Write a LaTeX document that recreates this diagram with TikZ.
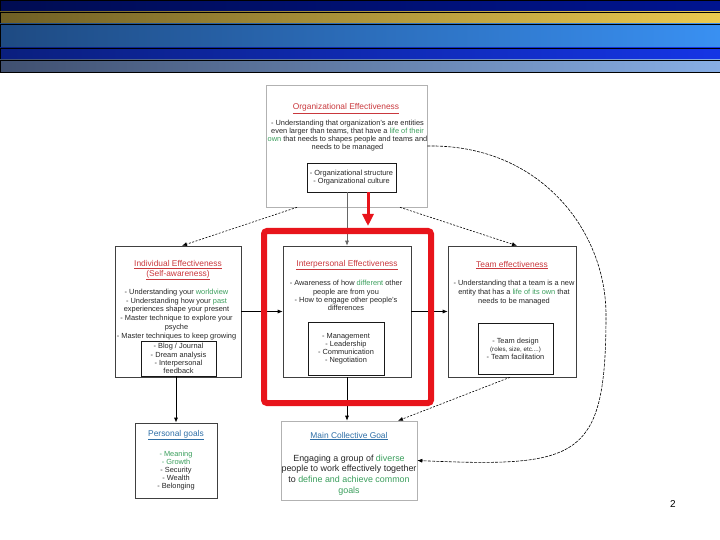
\documentclass[tikz,border=0pt]{standalone}
\usepackage{fontspec}
\setmainfont{Liberation Sans}
\usetikzlibrary{arrows.meta}

\definecolor{navyL}{HTML}{000C52}
\definecolor{navyR}{HTML}{001490}
\definecolor{goldL}{HTML}{6F5F25}
\definecolor{goldR}{HTML}{EBC94F}
\definecolor{skyL}{HTML}{1E4A82}
\definecolor{skyR}{HTML}{3990F2}
\definecolor{royalL}{HTML}{0A1F7E}
\definecolor{royalR}{HTML}{1535E5}
\definecolor{slateL}{HTML}{405070}
\definecolor{slateR}{HTML}{87AEE5}
\definecolor{titlered}{HTML}{C9383D}
\definecolor{keygreen}{HTML}{3A9E5C}
\definecolor{goalblue}{HTML}{2E6EA6}
\definecolor{framered}{HTML}{E8141B}
\newcommand{\keyword}[1]{\textcolor{keygreen}{#1}}

\begin{document}
\begin{tikzpicture}[x=1pt, y=-1pt, >={Latex[length=5pt,width=4pt]},
  box/.style={draw=black!75, line width=0.6pt, inner sep=0pt},
  softbox/.style={draw=black!30, line width=0.6pt, inner sep=0pt},
  subbox/.style={draw=black!90, line width=0.7pt, inner sep=0pt, align=center,
    font=\fontsize{7.4}{8.1}\selectfont, text=black!85},
  heading/.style={anchor=base, align=center, inner sep=0pt,
    font=\fontsize{8.4}{10}\selectfont, text=titlered},
  goalhead/.style={heading, text=goalblue},
  body/.style={anchor=north, align=center, inner sep=0pt,
    font=\fontsize{7.4}{8.3}\selectfont, text=black!85},
  link/.style={->, line width=0.6pt},
  hint/.style={->, line width=0.6pt, dash pattern=on 2pt off 1.5pt}]

  \useasboundingbox (0,0) rectangle (720,540);

  % ===== Header bars =====
  \foreach \ya/\yb/\lc/\rc in {0/12/navyL/navyR, 12/24/goldL/goldR, 24/48/skyL/skyR,
                                48/60/royalL/royalR, 60/72/slateL/slateR}
    \shadedraw[left color=\lc, right color=\rc, draw=black, line width=0.6pt] (0,\ya) rectangle (720,\yb);

  % ===== Organizational box (top) =====
  \node[softbox, minimum width=161pt, minimum height=122pt] (org) at (346.5,146) {};
  \node[heading] (orgtitle) at (346,110) {\underline{Organizational Effectiveness}};
  \node[body, font=\fontsize{7.4}{7.9}\selectfont] (orgtext) at (347.5,120.3)
    {- Understanding that organization's are entities\\
     even larger than teams, that have a \keyword{life of their}\\
     \keyword{own} that needs to shapes people and teams and\\
     needs to be managed};
  \node[subbox, minimum width=89pt, minimum height=29pt] (orgin) at (351.5,177.5)
    {- Organizational structure\\ - Organizational culture};

  % ===== Middle row =====
  \node[box, minimum width=126pt, minimum height=131pt] (indiv) at (178,311.5) {};
  \node[heading, anchor=north] (indivtitle) at (178,260)
    {\underline{Individual Effectiveness}\\ \underline{(Self-awareness)}};
  \node[body, font=\fontsize{7.4}{8.8}\selectfont] (indivtext) at (176.5,288.7)
    {- Understanding your \keyword{worldview}\\
     - Understanding how your \keyword{past}\\
     experiences shape your present\\
     - Master technique to explore your\\
     psyche\\
     - Master techniques to keep growing};
  \node[subbox, minimum width=75pt, minimum height=35pt] (indin) at (178.5,358.5)
    {- Blog / Journal\\ - Dream analysis\\ - Interpersonal\\ feedback};

  \node[box, minimum width=128pt, minimum height=131pt] (interp) at (347,311.5) {};
  \node[heading] (interptitle) at (347,266.3) {\underline{Interpersonal Effectiveness}};
  \node[body] (interptext) at (346,280.3)
    {- Awareness of how \keyword{different} other\\
     people are from you\\
     - How to engage other people's\\
     differences};
  \node[subbox, minimum width=76pt, minimum height=53pt] (intin) at (346,348.5)
    {- Management\\ - Leadership\\ - Communication\\ - Negotiation};

  \node[box, minimum width=128pt, minimum height=131pt] (team) at (512,311.5) {};
  \node[heading] (teamtitle) at (512,267) {\underline{Team effectiveness}};
  \node[body, font=\fontsize{7.4}{8.7}\selectfont] (teamtext) at (514,280.3)
    {- Understanding that a team is a new\\
     entity that has a \keyword{life of its own} that\\
     needs to be managed};
  \node[subbox, minimum width=75pt, minimum height=51pt] (teamin) at (515.5,348.5)
    {- Team design\\ {\fontsize{6.2}{8}\selectfont(roles, size, etc....)}\\ - Team facilitation};

  % ===== Goals (bottom) =====
  \node[box, minimum width=82pt, minimum height=75pt] (pers) at (176,460.5) {};
  \node[goalhead] (perstitle) at (176,436.3) {\underline{Personal goals}};
  \node[body, font=\fontsize{7.4}{7.8}\selectfont] (perstext) at (176,451.3)
    {\keyword{- Meaning}\\ \keyword{- Growth}\\ - Security\\ - Wealth\\ - Belonging};

  \node[softbox, minimum width=136pt, minimum height=79pt] (goal) at (349,460.5) {};
  \node[goalhead] (goaltitle) at (349,438) {\underline{Main Collective Goal}};
  \node[body, font=\fontsize{8.9}{10.6}\selectfont] (goaltext) at (349,454.6)
    {Engaging a group of \keyword{diverse}\\
     people to work effectively together\\
     to \keyword{define and achieve common}\\
     \keyword{goals}};

  % ===== Connectors =====
  \coordinate (swing) at (606,315);
  \draw[hint] ([xshift=-49.5pt]org.south) -- ([xshift=4pt]indiv.north);
  \draw[hint] ([xshift=53.5pt]org.south) -- ([xshift=5pt]team.north);
  \draw[hint, dash pattern=on 3pt off 1.2pt] (org.east) .. controls +(112,-2) and +(0,-85) .. (swing)
    .. controls +(0,145) and +(162,7) .. (goal.east);
  \draw[link, black!60] (interp.north |- orgin.south) -- (interp.north);
  \draw[link] (indiv.east) -- (interp.west);
  \draw[link] (interp.east) -- (team.west);
  \draw[link, line width=1pt] (pers.north |- indin.south) -- (pers.north);
  \draw[link] (interp.south) -- (interp.south |- goal.north);
  \draw[hint] ([xshift=-2pt]team.south) -- ([xshift=49pt]goal.north);

  % ===== Red focus frame =====
  \node[draw=framered, line width=6pt, rounded corners=3pt, inner sep=0pt,
        minimum width=167pt, minimum height=172pt] (focus) at (347.5,317) {};
  \draw[-{Triangle[length=12pt,width=11pt]}, framered, line width=3pt]
    ([xshift=16.5pt]orgin.south) -- ([xshift=20.5pt,yshift=2pt]focus.north);

  \node[font=\fontsize{10}{12}\selectfont] (pagenum) at (673,504) {2};
\end{tikzpicture}
\end{document}
